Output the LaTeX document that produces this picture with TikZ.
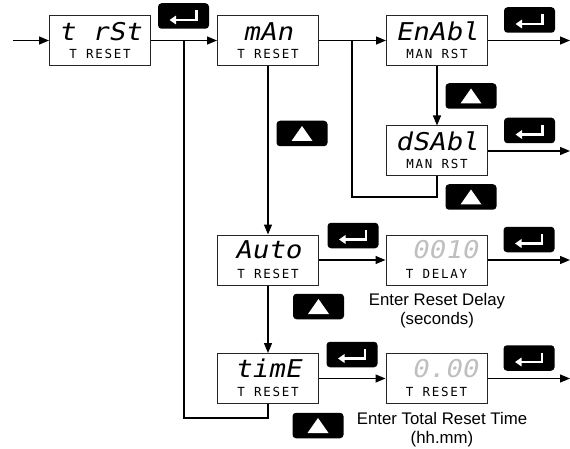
\documentclass[tikz,border=0pt]{standalone}
\usepackage{fontspec}
\setmainfont{Liberation Sans}
\newfontfamily\segfont{DejaVu Sans Mono}[FakeSlant=0.2,FakeStretch=1.12]
\newfontfamily\lcdfont{DejaVu Sans Mono}[LetterSpace=14]
\usetikzlibrary{arrows.meta}
\begin{document}
\begin{tikzpicture}[x=1pt,y=-1pt,
 disp/.style={draw=black!85, line width=1pt, minimum width=101pt, minimum height=50pt, inner sep=0pt},
 big/.style={font=\segfont\fontsize{24.5}{24}\selectfont, inner sep=0pt, anchor=base},
 bignum/.style={big, anchor=base east, text=black!25},
 small/.style={font=\lcdfont\fontsize{12.5}{12.5}\selectfont, inner sep=0pt, anchor=base},
 conn/.style={line width=1.3pt},
 arr/.style={conn, -{Triangle[length=10pt,width=8pt]}},
 key/.style={fill=black, rounded corners=3.5pt, minimum width=51pt, minimum height=25.5pt, inner sep=0pt},
 enterkey/.style={key, path picture={
   \draw[white, sharp corners, line width=2.2pt, -{Triangle[length=6.5pt,width=8.5pt]}]
    ([xshift=13pt,yshift=5.5pt]path picture bounding box.center) -- ++(0pt,-9.5pt) -- ++(-27pt,0pt);}},
 upkey/.style={key, path picture={
   \fill[white, sharp corners] ([yshift=7.5pt]path picture bounding box.center) -- ++(-10.5pt,-15pt) -- ++(21pt,0pt) -- cycle;}},
 note/.style={font=\fontsize{16.8}{19}\selectfont, align=center, inner sep=0pt}
]
\useasboundingbox (0,0) rectangle (570,449);

% display boxes
\node[disp] (trst) at (100,40.5) {};
\node[big] (trstA) at (100,40.5) {t rSt};
\node[small] (trstB) at (100,58.5) {T RESET};

\node[disp] (mAn) at (268,40.5) {};
\node[big] (mAnA) at (268,40.5) {mAn};
\node[small] (mAnB) at (268,58.5) {T RESET};

\node[disp] (EnAbl) at (437,40.5) {};
\node[big] (EnAblA) at (437,40.5) {EnAbl};
\node[small] (EnAblB) at (437,58.5) {MAN RST};

\node[disp] (dSAbl) at (437,151) {};
\node[big] (dSAblA) at (437,151) {dSAbl};
\node[small] (dSAblB) at (437,169) {MAN RST};

\node[disp] (Auto) at (268,260) {};
\node[big] (AutoA) at (268,258.5) {Auto};
\node[small] (AutoB) at (268,278) {T RESET};

\node[disp] (dly) at (436.5,260) {};
\node[bignum] (dlyA) at (478,258.5) {0010};
\node[small] (dlyB) at (436.5,278) {T DELAY};

\node[disp] (timE) at (268,378.5) {};
\node[big] (timEA) at (268,377.5) {timE};
\node[small] (timEB) at (268,396.5) {T RESET};

\node[disp] (tot) at (436.5,378.5) {};
\node[bignum] (totA) at (478,377.5) {0.00};
\node[small] (totB) at (436.5,396.5) {T RESET};

% keys
\node[enterkey] (k1) at (183.5,16) {};
\node[enterkey] (k2) at (529.5,20) {};
\node[upkey] (k3) at (471,96) {};
\node[enterkey] (k4) at (529.5,130.5) {};
\node[upkey] (k5) at (471,197) {};
\node[upkey] (k6) at (302,133.5) {};
\node[enterkey] (k7) at (353,235.5) {};
\node[enterkey] (k8) at (529,239.5) {};
\node[upkey] (k9) at (318.5,306.5) {};
\node[enterkey] (k10) at (352,354.5) {};
\node[enterkey] (k11) at (529,358) {};
\node[upkey] (k12) at (318,425.5) {};

% notes
\node[note] (n1) at (437,311) {Enter Reset Delay\\(seconds)};
\node[note] (n2) at (442,430) {Enter Total Reset Time\\(hh.mm)};

% connectors
\coordinate (in) at (13,40.5);
\coordinate (o1) at (570,40.5);
\coordinate (o2) at (570,151);
\coordinate (o3) at (570,260);
\coordinate (o4) at (570,378.5);
\coordinate (j1) at (184,40.5);
\coordinate (c1) at (184,418);
\coordinate (j2) at (352,40.5);
\coordinate (c2) at (352,197);

\draw[arr] (in) -- (trst);
\draw[arr] (trst) -- (mAn);
\draw[arr] (mAn) -- (EnAbl);
\draw[arr] (EnAbl) -- (o1);
\draw[arr] (EnAbl) -- (dSAbl);
\draw[arr] (dSAbl) -- (o2);
\draw[conn] (dSAbl.south) |- (c2) -- (j2);
\draw[arr] (mAn) -- (Auto);
\draw[arr] (Auto) -- (dly);
\draw[arr] (dly) -- (o3);
\draw[arr] (Auto) -- (timE);
\draw[arr] (timE) -- (tot);
\draw[arr] (tot) -- (o4);
\draw[conn] (timE.south) |- (c1) -- (j1);
\end{tikzpicture}
\end{document}
